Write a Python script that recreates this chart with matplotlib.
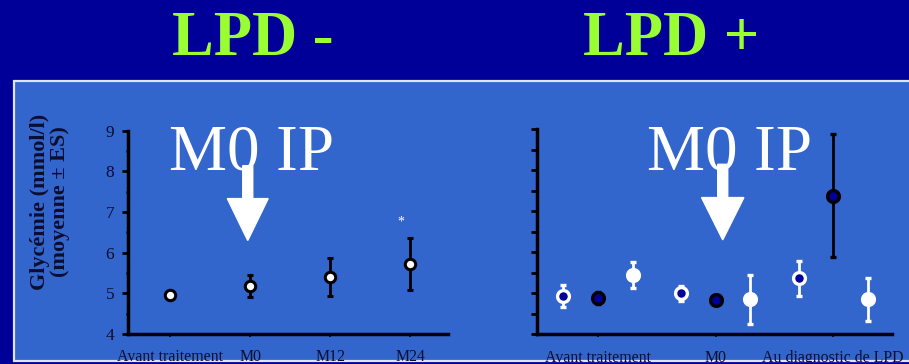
"""Glycémie avant/après traitement, groupes LPD - et LPD +"""
import matplotlib
matplotlib.use('Agg')
import matplotlib.pyplot as plt
from matplotlib.patches import Rectangle, FancyArrow

# LPD - : une série, quatre temps
cats_neg = ['Avant traitement', 'M0', 'M12', 'M24']
mean_neg = [4.97, 5.17, 5.41, 5.72]
err_neg = [0.03, 0.27, 0.47, 0.63]

# LPD + : trois séries, trois temps
cats_pos = ['Avant traitement', 'M0', 'Au diagnostic de LPD']
mean_a = [4.94, 5.00, 5.36]
err_a = [0.27, 0.18, 0.43]
mean_b = [4.89, 4.84, 7.38]
err_b = [0.15, 0.10, 1.50]
mean_c = [5.44, 4.85, 4.85]
err_c = [0.32, 0.60, 0.53]

BG = '#000099'
PANEL = '#3366CC'
GREEN = '#99FF33'
INK = '#0d0d2e'

plt.rcParams['font.family'] = ['Liberation Serif', 'DejaVu Serif']

fig = plt.figure(figsize=(9.09, 3.64), dpi=100)
fig.patch.set_facecolor(BG)

# panneau bleu clair, sous les axes
fig.patches.append(Rectangle((14 / 909, 3 / 364), 1.0, 280 / 364,
                             transform=fig.transFigure, facecolor=PANEL,
                             edgecolor='#dfe4f5', linewidth=1.6, zorder=-5))

fig.text(253 / 909, 1 - 55 / 364, 'LPD -', color=GREEN, fontsize=45,
         fontweight='bold', ha='center', va='baseline')
fig.text(671 / 909, 1 - 55 / 364, 'LPD +', color=GREEN, fontsize=45,
         fontweight='bold', ha='center', va='baseline')

ax1 = fig.add_axes([128 / 909, 30 / 364, 320 / 909, 203.3 / 364])
ax2 = fig.add_axes([537 / 909, 29.7 / 364, 355 / 909, 205.3 / 364])

for ax in (ax1, ax2):
    ax.set_facecolor('none')
    ax.set_ylim(4, 9)
    for side in ('top', 'right'):
        ax.spines[side].set_visible(False)
    for side in ('left', 'bottom'):
        ax.spines[side].set_linewidth(2.5)
        ax.spines[side].set_color('black')
    ax.tick_params(axis='x', direction='out', length=2.5, width=1.2,
                   pad=8.5, labelsize=11.4, labelcolor=INK)
    ax.tick_params(axis='y', which='major', direction='out', length=4,
                   width=2, pad=6, labelsize=12.5, labelcolor=INK)

# LPD -
x_neg = list(range(len(cats_neg)))
ax1.errorbar(x_neg, mean_neg, yerr=err_neg, fmt='o', color='black',
             ecolor='black', elinewidth=2, capsize=2.5, capthick=2,
             markersize=7.5, markerfacecolor='white', markeredgecolor='black',
             markeredgewidth=2.2, clip_on=False, zorder=3)
ax1.set_xlim(-0.525, 3.47)
ax1.set_xticks(x_neg)
ax1.set_xticklabels(cats_neg)
ax1.set_yticks(range(4, 10))
ax1.set_yticks([4.5, 5.5, 6.5, 7.5, 8.5], minor=True)
ax1.tick_params(axis='y', which='minor', direction='out', length=1.5, width=2)
ax1.text(2.88, 6.75, '*', color='white', fontsize=10, ha='center', va='center')

# LPD +
x_pos = list(range(len(cats_pos)))
off = 0.295
series = [
    ([x - off for x in x_pos], mean_a, err_a, BG, 'white', 'white'),
    (x_pos, mean_b, err_b, BG, 'black', 'black'),
    ([x + off for x in x_pos], mean_c, err_c, 'white', 'white', 'white'),
]
for xs, m, e, fc, ec, barc in series:
    ax2.errorbar(xs, m, yerr=e, fmt='o', ecolor=barc, elinewidth=2,
                 capsize=2.5, capthick=2, markersize=8.5,
                 markerfacecolor=fc, markeredgecolor=ec, markeredgewidth=2.4,
                 clip_on=False, zorder=3)
ax2.set_xlim(-0.52, 2.50)
ax2.set_xticks(x_pos)
ax2.set_xticklabels(cats_pos)
ax2.set_yticks([4 + 0.5 * i for i in range(11)])
ax2.set_yticklabels([])

# "M0 IP" et flèche vers M0
for ax, xc, xa, w, hw in ((ax1, 252, 0.97, 0.125, 0.51),
                          (ax2, 730, 1.06, 0.085, 0.36)):
    fig.text(xc / 909, 1 - 169 / 364, 'M0 IP', color='white', fontsize=47,
             ha='center', va='baseline')
    ax.add_patch(FancyArrow(xa, 8.14, 0, -1.84, width=w, head_width=hw,
                            head_length=1.03, length_includes_head=True,
                            color='white', clip_on=False, zorder=2))

fig.text(50 / 909, 1 - 202 / 364, 'Glycémie (mmol/l)\n(moyenne ± ES)',
         rotation=90, ha='center', va='center', fontsize=16,
         fontweight='bold', color=INK, linespacing=1.0)

fig.savefig('out.png', dpi=100, facecolor=BG)
